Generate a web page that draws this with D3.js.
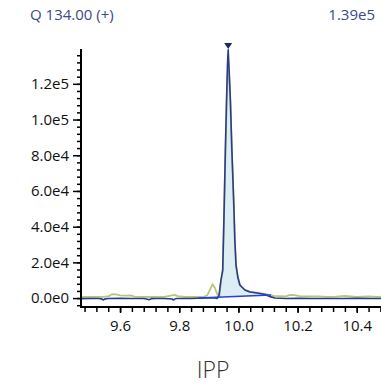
<!DOCTYPE html>
<html>
<head>
<meta charset="utf-8">
<script src="https://cdn.jsdelivr.net/npm/d3@7/dist/d3.min.js"></script>
<style>
  html, body { margin: 0; padding: 0; background: #fff; }
  svg { display: block; }
  text { font-family: "Open Sans", "Noto Sans", sans-serif; }
</style>
</head>
<body>
<svg id="chart" width="381" height="386"></svg>
<script>
// Retention times (min) and intensities for the two traces
const blueTimes = [9.468, 9.50, 9.53, 9.540, 9.543, 9.547, 9.56, 9.60, 9.64, 9.68, 9.693, 9.697, 9.702, 9.706, 9.72, 9.75, 9.776, 9.780, 9.785, 9.790, 9.81, 9.84, 9.86, 9.89, 9.92, 9.928, 9.934, 9.941, 9.947, 9.951, 9.956, 9.960, 9.963, 9.9655, 9.968, 9.973, 9.978, 9.984, 9.988, 9.992, 9.998, 10.005, 10.022, 10.039, 10.063, 10.09, 10.107, 10.124, 10.16, 10.20, 10.25, 10.30, 10.35, 10.40, 10.45, 10.482];
const blueValues = [-300, -200, -200, -600, -1100, -600, -200, -100, -200, -200, -700, -900, -700, -300, -200, -200, -500, -1100, -600, -200, -200, -200, -100, 100, 0, -200, 1100, 10000, 15700, 43700, 82900, 110900, 130500, 139000, 130500, 110900, 82900, 54900, 32500, 18500, 11800, 7300, 4500, 3400, 2800, 2000, 800, 0, -200, -100, -200, -200, -200, -100, -200, -200];

const greenTimes = [9.468, 9.50, 9.54, 9.560, 9.570, 9.578, 9.59, 9.60, 9.62, 9.635, 9.65, 9.70, 9.75, 9.775, 9.785, 9.795, 9.82, 9.86, 9.885, 9.895, 9.905, 9.913, 9.921, 9.931, 9.936, 9.941, 9.947, 9.951, 9.956, 9.960, 9.963, 9.9655, 9.968, 9.973, 9.978, 9.984, 9.988, 9.992, 9.998, 10.005, 10.022, 10.039, 10.063, 10.09, 10.12, 10.16, 10.175, 10.19, 10.21, 10.24, 10.27, 10.30, 10.33, 10.36, 10.40, 10.44, 10.47, 10.482];
const greenValues = [700, 600, 700, 900, 1900, 2200, 1900, 1500, 1400, 1500, 800, 600, 700, 1500, 1800, 1100, 600, 600, 800, 1600, 5000, 7800, 5500, 1000, 900, 9500, 15000, 42000, 81000, 108000, 124000, 128000, 127000, 108000, 81500, 54000, 32000, 18300, 11600, 7200, 4600, 3600, 3000, 2300, 1200, 900, 1800, 1700, 1000, 900, 1000, 700, 800, 1200, 700, 900, 700, 800];

// Integration baseline endpoints
const baseTimes = [9.865, 10.11];
const baseValues = [0, 1700];

// Axis ticks
const yTickValues = [0, 20000, 40000, 60000, 80000, 100000, 120000];
const xTickValues = [9.6, 9.8, 10.0, 10.2, 10.4];

const titleLeft = "Q 134.00 (+)";
const titleRight = "1.39e5";
const compoundName = "IPP";
const apexTime = 9.9655;
const apexValue = 139000;

const svg = d3.select("#chart");
const plotLeft = 81, plotRight = 381, plotTop = 49, plotBottom = 307;

const x = d3.scaleLinear().domain([9.468, 10.482]).range([plotLeft, plotRight]);
const y = d3.scaleLinear().domain([-5000, 139500]).range([plotBottom, plotTop]);

// Shaded integrated area between the trace and the baseline
const baseAt = t => baseValues[0] + (baseValues[1] - baseValues[0]) * (t - baseTimes[0]) / (baseTimes[1] - baseTimes[0]);
const areaPts = [];
areaPts.push({t: baseTimes[0], v: baseAt(baseTimes[0])});
blueTimes.forEach((t, i) => {
  if (t > baseTimes[0] && t < baseTimes[1]) areaPts.push({t, v: Math.max(blueValues[i], baseAt(t))});
});
areaPts.push({t: baseTimes[1], v: baseAt(baseTimes[1])});

svg.append("path")
  .datum(areaPts)
  .attr("fill", "#dcedf4")
  .attr("d", d3.area().x(d => x(d.t)).y0(d => y(baseAt(d.t))).y1(d => y(d.v)));

const line = d3.line().x(d => x(d[0])).y(d => y(d[1]));

svg.append("path")
  .datum(greenTimes.map((t, i) => [t, greenValues[i]]))
  .attr("fill", "none").attr("stroke", "#b9c676").attr("stroke-width", 1.8)
  .attr("stroke-linejoin", "round")
  .attr("d", line);

svg.append("path")
  .datum(blueTimes.map((t, i) => [t, blueValues[i]]))
  .attr("fill", "none").attr("stroke", "#2c3b8c").attr("stroke-width", 1.6)
  .attr("stroke-linejoin", "round")
  .attr("d", line);

svg.append("path")
  .datum(baseTimes.map((t, i) => [t, baseValues[i]]))
  .attr("fill", "none").attr("stroke", "#1f3ff0").attr("stroke-width", 1.5)
  .attr("d", line);

// Apex marker
const mx = x(apexTime), my = y(apexValue);
svg.append("path")
  .attr("d", `M${mx - 4},${my - 7} L${mx + 4},${my - 7} L${mx},${my - 1} Z`)
  .attr("fill", "#1d2b62");

// Y axis with minor ticks
const yMinor = d3.range(-4000, 138000, 4000);
svg.append("g").attr("transform", `translate(${plotLeft},0)`)
  .call(d3.axisLeft(y).tickValues(yMinor).tickSize(4).tickFormat(""))
  .call(g => g.select(".domain").remove())
  .call(g => g.selectAll("line").attr("stroke", "#000").attr("stroke-width", 1.5));
svg.append("g").attr("transform", `translate(${plotLeft},0)`)
  .call(d3.axisLeft(y).tickValues(yTickValues).tickSize(8).tickPadding(4)
    .tickFormat(v => v === 0 ? "0.0e0" : d3.format(".1e")(v).replace("+", "")))
  .call(g => g.select(".domain").remove())
  .call(g => g.selectAll("line").attr("stroke", "#000").attr("stroke-width", 1.5))
  .call(g => g.selectAll("text").attr("font-size", 15).attr("fill", "#111"));

// X axis with minor ticks
const xMinor = d3.range(9.48, 10.49, 0.04);
svg.append("g").attr("transform", `translate(0,${plotBottom})`)
  .call(d3.axisBottom(x).tickValues(xMinor).tickSize(5).tickFormat(""))
  .call(g => g.select(".domain").remove())
  .call(g => g.selectAll("line").attr("stroke", "#000").attr("stroke-width", 1.5));
svg.append("g").attr("transform", `translate(0,${plotBottom})`)
  .call(d3.axisBottom(x).tickValues(xTickValues).tickSize(6).tickPadding(7).tickFormat(d3.format(".1f")))
  .call(g => g.select(".domain").remove())
  .call(g => g.selectAll("line").attr("stroke", "#000").attr("stroke-width", 1.5))
  .call(g => g.selectAll("text").attr("font-size", 15).attr("fill", "#111"));

// Axis lines
svg.append("line").attr("x1", plotLeft).attr("x2", plotLeft).attr("y1", plotTop).attr("y2", plotBottom + 1)
  .attr("stroke", "#000").attr("stroke-width", 2);
svg.append("line").attr("x1", plotLeft - 1).attr("x2", plotRight).attr("y1", plotBottom).attr("y2", plotBottom)
  .attr("stroke", "#000").attr("stroke-width", 2);

// Header texts
svg.append("text").attr("x", 30).attr("y", 20).attr("font-size", 15).attr("fill", "#3a4a8c").text(titleLeft);
svg.append("text").attr("x", 375).attr("y", 20).attr("text-anchor", "end").attr("font-size", 15).attr("fill", "#3a4a8c").text(titleRight);

// Compound name
svg.append("text").attr("x", 213).attr("y", 378).attr("text-anchor", "middle")
  .attr("font-size", 23).attr("font-weight", 300).attr("fill", "#333").text(compoundName);
</script>
</body>
</html>
